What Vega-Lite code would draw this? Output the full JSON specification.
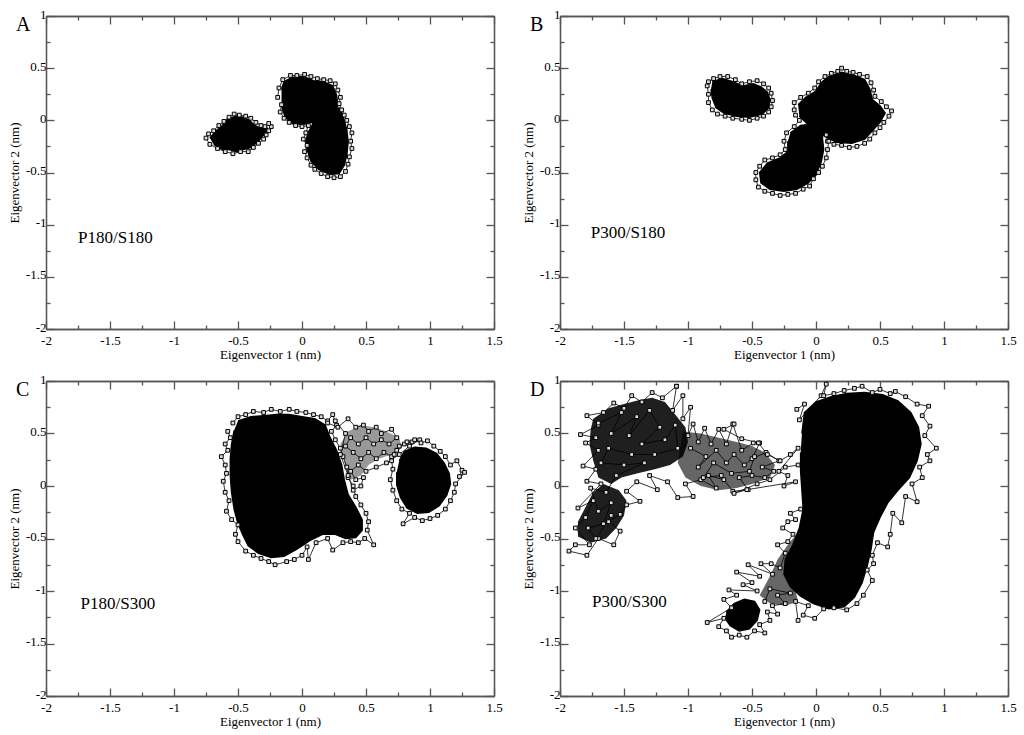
{
"$schema": "https://vega.github.io/schema/vega-lite/v6.json",
"background": "white",
"padding": {"left": 8, "top": 8, "right": 5, "bottom": 5},
"bounds": "flush",
"columns": 2,
"spacing": {"column": 66, "row": 52},
"config": {
  "view": {"stroke": null},
  "axis": {"labelFont": "Liberation Serif, Times New Roman, serif", "labelFontSize": 13, "labelColor": "black", "titleFont": "Liberation Serif, Times New Roman, serif", "titleFontSize": 13, "titleFontWeight": "normal", "titleColor": "black", "domainColor": "#555", "tickColor": "#555", "domainWidth": 1.3, "tickWidth": 1.3, "labelFlush": false, "labelOverlap": false, "grid": false},
  "title": {"font": "Liberation Serif, Times New Roman, serif", "fontSize": 20, "fontWeight": "normal", "color": "black", "anchor": "start", "frame": "group", "dx": -30, "dy": 31, "offset": 0, "baseline": "alphabetic"}
},
"datasets": {
  "A_core": [
    {"g":1,"x":-0.72,"y":-0.17},{"g":1,"x":-0.67,"y":-0.10},{"g":1,"x":-0.63,"y":-0.06},{"g":1,"x":-0.58,"y":0.01},{"g":1,"x":-0.52,"y":0.04},{"g":1,"x":-0.46,"y":0.03},{"g":1,"x":-0.41,"y":0.0},{"g":1,"x":-0.37,"y":-0.05},{"g":1,"x":-0.33,"y":-0.07},{"g":1,"x":-0.28,"y":-0.06},{"g":1,"x":-0.26,"y":-0.11},{"g":1,"x":-0.31,"y":-0.15},{"g":1,"x":-0.34,"y":-0.20},{"g":1,"x":-0.40,"y":-0.26},{"g":1,"x":-0.46,"y":-0.28},{"g":1,"x":-0.51,"y":-0.30},{"g":1,"x":-0.57,"y":-0.28},{"g":1,"x":-0.62,"y":-0.28},{"g":1,"x":-0.69,"y":-0.23},
    {"g":2,"x":-0.16,"y":0.30},{"g":2,"x":-0.14,"y":0.37},{"g":2,"x":-0.08,"y":0.41},{"g":2,"x":0.01,"y":0.42},{"g":2,"x":0.09,"y":0.38},{"g":2,"x":0.17,"y":0.37},{"g":2,"x":0.24,"y":0.33},{"g":2,"x":0.27,"y":0.24},{"g":2,"x":0.28,"y":0.14},{"g":2,"x":0.24,"y":0.04},{"g":2,"x":0.18,"y":0.0},{"g":2,"x":0.12,"y":-0.02},{"g":2,"x":0.06,"y":-0.02},{"g":2,"x":0.01,"y":-0.04},{"g":2,"x":-0.07,"y":-0.03},{"g":2,"x":-0.13,"y":0.03},{"g":2,"x":-0.16,"y":0.14},
    {"g":3,"x":0.05,"y":-0.10},{"g":3,"x":0.03,"y":-0.20},{"g":3,"x":0.04,"y":-0.28},{"g":3,"x":0.07,"y":-0.39},{"g":3,"x":0.13,"y":-0.47},{"g":3,"x":0.22,"y":-0.52},{"g":3,"x":0.29,"y":-0.51},{"g":3,"x":0.33,"y":-0.43},{"g":3,"x":0.35,"y":-0.33},{"g":3,"x":0.36,"y":-0.21},{"g":3,"x":0.35,"y":-0.09},{"g":3,"x":0.32,"y":0.04},{"g":3,"x":0.29,"y":0.12},{"g":3,"x":0.22,"y":0.10},{"g":3,"x":0.14,"y":0.04},{"g":3,"x":0.08,"y":-0.03}
  ],
  "A_path": [
    {"g":1,"x":-0.75,"y":-0.17},{"g":1,"x":-0.72,"y":-0.23},{"g":1,"x":-0.66,"y":-0.27},{"g":1,"x":-0.60,"y":-0.30},{"g":1,"x":-0.54,"y":-0.32},{"g":1,"x":-0.48,"y":-0.30},{"g":1,"x":-0.42,"y":-0.30},{"g":1,"x":-0.38,"y":-0.26},{"g":1,"x":-0.34,"y":-0.22},{"g":1,"x":-0.30,"y":-0.18},{"g":1,"x":-0.28,"y":-0.14},{"g":1,"x":-0.26,"y":-0.10},{"g":1,"x":-0.24,"y":-0.06},{"g":1,"x":-0.26,"y":-0.03},{"g":1,"x":-0.29,"y":-0.06},{"g":1,"x":-0.32,"y":-0.05},{"g":1,"x":-0.36,"y":-0.02},{"g":1,"x":-0.40,"y":0.02},{"g":1,"x":-0.44,"y":0.04},{"g":1,"x":-0.49,"y":0.05},{"g":1,"x":-0.53,"y":0.06},{"g":1,"x":-0.57,"y":0.03},{"g":1,"x":-0.61,"y":-0.01},{"g":1,"x":-0.65,"y":-0.05},{"g":1,"x":-0.69,"y":-0.10},{"g":1,"x":-0.73,"y":-0.13},
    {"g":2,"x":-0.19,"y":0.22},{"g":2,"x":-0.18,"y":0.31},{"g":2,"x":-0.15,"y":0.39},{"g":2,"x":-0.09,"y":0.43},{"g":2,"x":-0.04,"y":0.43},{"g":2,"x":0.02,"y":0.44},{"g":2,"x":0.07,"y":0.42},{"g":2,"x":0.12,"y":0.40},{"g":2,"x":0.17,"y":0.39},{"g":2,"x":0.22,"y":0.38},{"g":2,"x":0.26,"y":0.35},{"g":2,"x":0.28,"y":0.29},{"g":2,"x":0.30,"y":0.22},{"g":2,"x":0.29,"y":0.16},{"g":2,"x":0.31,"y":0.10},{"g":2,"x":0.33,"y":0.05},{"g":2,"x":0.35,"y":0.0},{"g":2,"x":0.37,"y":-0.06},{"g":2,"x":0.39,"y":-0.12},{"g":2,"x":0.38,"y":-0.20},{"g":2,"x":0.39,"y":-0.27},{"g":2,"x":0.37,"y":-0.35},{"g":2,"x":0.36,"y":-0.42},{"g":2,"x":0.34,"y":-0.49},{"g":2,"x":0.30,"y":-0.54},{"g":2,"x":0.25,"y":-0.55},{"g":2,"x":0.20,"y":-0.54},{"g":2,"x":0.15,"y":-0.51},{"g":2,"x":0.10,"y":-0.47},{"g":2,"x":0.07,"y":-0.43},{"g":2,"x":0.04,"y":-0.36},{"g":2,"x":0.02,"y":-0.30},{"g":2,"x":0.04,"y":-0.24},{"g":2,"x":0.01,"y":-0.18},{"g":2,"x":0.03,"y":-0.12},{"g":2,"x":0.05,"y":-0.05},{"g":2,"x":0.0,"y":-0.06},{"g":2,"x":-0.05,"y":-0.05},{"g":2,"x":-0.10,"y":-0.02},{"g":2,"x":-0.14,"y":0.02},{"g":2,"x":-0.17,"y":0.08},{"g":2,"x":-0.16,"y":0.15}
  ],
  "A_label": [{"x":-1.75,"y":-1.13,"t":"P180/S180"}],
  "B_core": [
    {"g":1,"x":-0.81,"y":0.37},{"g":1,"x":-0.73,"y":0.40},{"g":1,"x":-0.65,"y":0.37},{"g":1,"x":-0.57,"y":0.33},{"g":1,"x":-0.49,"y":0.35},{"g":1,"x":-0.43,"y":0.32},{"g":1,"x":-0.38,"y":0.27},{"g":1,"x":-0.36,"y":0.20},{"g":1,"x":-0.37,"y":0.12},{"g":1,"x":-0.42,"y":0.06},{"g":1,"x":-0.52,"y":0.03},{"g":1,"x":-0.62,"y":0.04},{"g":1,"x":-0.72,"y":0.07},{"g":1,"x":-0.78,"y":0.12},{"g":1,"x":-0.81,"y":0.21},{"g":1,"x":-0.82,"y":0.30},
    {"g":2,"x":-0.14,"y":0.15},{"g":2,"x":-0.08,"y":0.22},{"g":2,"x":0.0,"y":0.28},{"g":2,"x":0.04,"y":0.36},{"g":2,"x":0.10,"y":0.42},{"g":2,"x":0.20,"y":0.46},{"g":2,"x":0.30,"y":0.43},{"g":2,"x":0.38,"y":0.39},{"g":2,"x":0.42,"y":0.30},{"g":2,"x":0.44,"y":0.20},{"g":2,"x":0.50,"y":0.14},{"g":2,"x":0.54,"y":0.07},{"g":2,"x":0.50,"y":-0.02},{"g":2,"x":0.44,"y":-0.10},{"g":2,"x":0.38,"y":-0.18},{"g":2,"x":0.28,"y":-0.22},{"g":2,"x":0.16,"y":-0.21},{"g":2,"x":0.08,"y":-0.16},{"g":2,"x":0.0,"y":-0.08},{"g":2,"x":-0.07,"y":-0.03},{"g":2,"x":-0.13,"y":0.04},
    {"g":3,"x":-0.20,"y":-0.12},{"g":3,"x":-0.12,"y":-0.05},{"g":3,"x":0.0,"y":-0.03},{"g":3,"x":0.06,"y":-0.08},{"g":3,"x":0.05,"y":-0.17},{"g":3,"x":0.06,"y":-0.28},{"g":3,"x":0.04,"y":-0.40},{"g":3,"x":0.0,"y":-0.52},{"g":3,"x":-0.06,"y":-0.60},{"g":3,"x":-0.15,"y":-0.66},{"g":3,"x":-0.25,"y":-0.68},{"g":3,"x":-0.36,"y":-0.66},{"g":3,"x":-0.43,"y":-0.60},{"g":3,"x":-0.44,"y":-0.50},{"g":3,"x":-0.38,"y":-0.41},{"g":3,"x":-0.28,"y":-0.36},{"g":3,"x":-0.22,"y":-0.30},{"g":3,"x":-0.22,"y":-0.20}
  ],
  "B_path": [
    {"g":1,"x":-0.85,"y":0.33},{"g":1,"x":-0.84,"y":0.25},{"g":1,"x":-0.84,"y":0.17},{"g":1,"x":-0.81,"y":0.10},{"g":1,"x":-0.77,"y":0.06},{"g":1,"x":-0.71,"y":0.04},{"g":1,"x":-0.65,"y":0.02},{"g":1,"x":-0.58,"y":0.01},{"g":1,"x":-0.52,"y":0.00},{"g":1,"x":-0.46,"y":0.02},{"g":1,"x":-0.41,"y":0.04},{"g":1,"x":-0.37,"y":0.08},{"g":1,"x":-0.35,"y":0.13},{"g":1,"x":-0.34,"y":0.19},{"g":1,"x":-0.35,"y":0.26},{"g":1,"x":-0.37,"y":0.31},{"g":1,"x":-0.41,"y":0.35},{"g":1,"x":-0.46,"y":0.38},{"g":1,"x":-0.52,"y":0.37},{"g":1,"x":-0.58,"y":0.35},{"g":1,"x":-0.63,"y":0.39},{"g":1,"x":-0.69,"y":0.42},{"g":1,"x":-0.75,"y":0.42},{"g":1,"x":-0.80,"y":0.40},{"g":1,"x":-0.84,"y":0.37},
    {"g":2,"x":-0.17,"y":0.10},{"g":2,"x":-0.17,"y":0.17},{"g":2,"x":-0.12,"y":0.22},{"g":2,"x":-0.06,"y":0.26},{"g":2,"x":-0.01,"y":0.31},{"g":2,"x":0.02,"y":0.37},{"g":2,"x":0.07,"y":0.42},{"g":2,"x":0.12,"y":0.45},{"g":2,"x":0.17,"y":0.47},{"g":2,"x":0.20,"y":0.50},{"g":2,"x":0.24,"y":0.47},{"g":2,"x":0.29,"y":0.46},{"g":2,"x":0.34,"y":0.44},{"g":2,"x":0.40,"y":0.42},{"g":2,"x":0.43,"y":0.36},{"g":2,"x":0.45,"y":0.29},{"g":2,"x":0.46,"y":0.23},{"g":2,"x":0.51,"y":0.18},{"g":2,"x":0.55,"y":0.13},{"g":2,"x":0.59,"y":0.09},{"g":2,"x":0.57,"y":0.04},{"g":2,"x":0.53,"y":-0.02},{"g":2,"x":0.50,"y":-0.07},{"g":2,"x":0.46,"y":-0.12},{"g":2,"x":0.42,"y":-0.18},{"g":2,"x":0.38,"y":-0.22},{"g":2,"x":0.32,"y":-0.25},{"g":2,"x":0.26,"y":-0.26},{"g":2,"x":0.20,"y":-0.24},{"g":2,"x":0.14,"y":-0.23},{"g":2,"x":0.09,"y":-0.20},{"g":2,"x":0.08,"y":-0.14},
    {"g":3,"x":-0.16,"y":0.05},{"g":3,"x":-0.13,"y":0.0},{"g":3,"x":-0.17,"y":-0.06},{"g":3,"x":-0.23,"y":-0.12},{"g":3,"x":-0.25,"y":-0.20},{"g":3,"x":-0.24,"y":-0.28},{"g":3,"x":-0.28,"y":-0.33},{"g":3,"x":-0.34,"y":-0.36},{"g":3,"x":-0.40,"y":-0.38},{"g":3,"x":-0.44,"y":-0.44},{"g":3,"x":-0.47,"y":-0.50},{"g":3,"x":-0.47,"y":-0.57},{"g":3,"x":-0.45,"y":-0.64},{"g":3,"x":-0.40,"y":-0.68},{"g":3,"x":-0.34,"y":-0.70},{"g":3,"x":-0.28,"y":-0.72},{"g":3,"x":-0.22,"y":-0.71},{"g":3,"x":-0.16,"y":-0.70},{"g":3,"x":-0.10,"y":-0.66},{"g":3,"x":-0.05,"y":-0.63},{"g":3,"x":-0.02,"y":-0.56},{"g":3,"x":0.02,"y":-0.50},{"g":3,"x":0.05,"y":-0.44},{"g":3,"x":0.08,"y":-0.36},{"g":3,"x":0.09,"y":-0.28},{"g":3,"x":0.10,"y":-0.20}
  ],
  "B_label": [{"x":-1.76,"y":-1.08,"t":"P300/S180"}],
  "C_light": [
    {"g":1,"x":0.30,"y":0.40},{"g":1,"x":0.36,"y":0.52},{"g":1,"x":0.46,"y":0.58},{"g":1,"x":0.56,"y":0.56},{"g":1,"x":0.66,"y":0.52},{"g":1,"x":0.76,"y":0.46},{"g":1,"x":0.78,"y":0.36},{"g":1,"x":0.70,"y":0.30},{"g":1,"x":0.60,"y":0.26},{"g":1,"x":0.52,"y":0.20},{"g":1,"x":0.46,"y":0.10},{"g":1,"x":0.38,"y":0.06},{"g":1,"x":0.34,"y":0.18}
  ],
  "C_core": [
    {"g":1,"x":-0.50,"y":0.62},{"g":1,"x":-0.40,"y":0.66},{"g":1,"x":-0.30,"y":0.67},{"g":1,"x":-0.20,"y":0.68},{"g":1,"x":-0.10,"y":0.68},{"g":1,"x":0.0,"y":0.66},{"g":1,"x":0.10,"y":0.64},{"g":1,"x":0.18,"y":0.58},{"g":1,"x":0.22,"y":0.46},{"g":1,"x":0.27,"y":0.34},{"g":1,"x":0.31,"y":0.20},{"g":1,"x":0.33,"y":0.06},{"g":1,"x":0.36,"y":-0.08},{"g":1,"x":0.42,"y":-0.20},{"g":1,"x":0.47,"y":-0.32},{"g":1,"x":0.47,"y":-0.42},{"g":1,"x":0.42,"y":-0.49},{"g":1,"x":0.34,"y":-0.50},{"g":1,"x":0.26,"y":-0.46},{"g":1,"x":0.16,"y":-0.46},{"g":1,"x":0.06,"y":-0.52},{"g":1,"x":-0.04,"y":-0.60},{"g":1,"x":-0.14,"y":-0.67},{"g":1,"x":-0.24,"y":-0.68},{"g":1,"x":-0.34,"y":-0.64},{"g":1,"x":-0.42,"y":-0.57},{"g":1,"x":-0.46,"y":-0.47},{"g":1,"x":-0.50,"y":-0.36},{"g":1,"x":-0.53,"y":-0.22},{"g":1,"x":-0.55,"y":-0.06},{"g":1,"x":-0.56,"y":0.10},{"g":1,"x":-0.56,"y":0.26},{"g":1,"x":-0.55,"y":0.40},{"g":1,"x":-0.53,"y":0.53},
    {"g":2,"x":0.76,"y":0.24},{"g":2,"x":0.80,"y":0.33},{"g":2,"x":0.88,"y":0.37},{"g":2,"x":0.97,"y":0.36},{"g":2,"x":1.05,"y":0.31},{"g":2,"x":1.11,"y":0.22},{"g":2,"x":1.15,"y":0.12},{"g":2,"x":1.16,"y":0.02},{"g":2,"x":1.13,"y":-0.09},{"g":2,"x":1.07,"y":-0.19},{"g":2,"x":0.99,"y":-0.25},{"g":2,"x":0.90,"y":-0.26},{"g":2,"x":0.82,"y":-0.21},{"g":2,"x":0.77,"y":-0.11},{"g":2,"x":0.74,"y":0.01},{"g":2,"x":0.74,"y":0.13}
  ],
  "C_path": [
    {"g":1,"x":-0.54,"y":0.60},{"g":1,"x":-0.50,"y":0.66},{"g":1,"x":-0.44,"y":0.68},{"g":1,"x":-0.38,"y":0.71},{"g":1,"x":-0.30,"y":0.70},{"g":1,"x":-0.24,"y":0.73},{"g":1,"x":-0.17,"y":0.71},{"g":1,"x":-0.10,"y":0.73},{"g":1,"x":-0.04,"y":0.71},{"g":1,"x":0.03,"y":0.70},{"g":1,"x":0.09,"y":0.68},{"g":1,"x":0.15,"y":0.66},{"g":1,"x":0.20,"y":0.62},{"g":1,"x":0.24,"y":0.68},{"g":1,"x":0.27,"y":0.58},{"g":1,"x":0.23,"y":0.52},{"g":1,"x":0.26,"y":0.44},{"g":1,"x":0.30,"y":0.36},{"g":1,"x":0.32,"y":0.28},{"g":1,"x":0.35,"y":0.18},{"g":1,"x":0.36,"y":0.08},{"g":1,"x":0.40,"y":0.00},{"g":1,"x":0.42,"y":-0.10},{"g":1,"x":0.46,"y":-0.18},{"g":1,"x":0.50,"y":-0.26},{"g":1,"x":0.52,"y":-0.34},{"g":1,"x":0.51,"y":-0.42},{"g":1,"x":0.56,"y":-0.56},{"g":1,"x":0.49,"y":-0.50},{"g":1,"x":0.44,"y":-0.54},{"g":1,"x":0.38,"y":-0.53},{"g":1,"x":0.32,"y":-0.54},{"g":1,"x":0.24,"y":-0.61},{"g":1,"x":0.20,"y":-0.50},{"g":1,"x":0.11,"y":-0.54},{"g":1,"x":0.05,"y":-0.70},{"g":1,"x":0.04,"y":-0.58},{"g":1,"x":0.0,"y":-0.66},{"g":1,"x":-0.06,"y":-0.70},{"g":1,"x":-0.12,"y":-0.72},{"g":1,"x":-0.21,"y":-0.75},{"g":1,"x":-0.26,"y":-0.72},{"g":1,"x":-0.32,"y":-0.69},{"g":1,"x":-0.38,"y":-0.66},{"g":1,"x":-0.44,"y":-0.62},{"g":1,"x":-0.50,"y":-0.53},{"g":1,"x":-0.52,"y":-0.46},{"g":1,"x":-0.50,"y":-0.37},{"g":1,"x":-0.55,"y":-0.32},{"g":1,"x":-0.59,"y":-0.24},{"g":1,"x":-0.57,"y":-0.14},{"g":1,"x":-0.60,"y":-0.06},{"g":1,"x":-0.615,"y":0.045},{"g":1,"x":-0.59,"y":0.12},{"g":1,"x":-0.60,"y":0.20},{"g":1,"x":-0.63,"y":0.28},{"g":1,"x":-0.58,"y":0.34},{"g":1,"x":-0.60,"y":0.40},{"g":1,"x":-0.56,"y":0.46},{"g":1,"x":-0.58,"y":0.52},
    {"g":2,"x":0.20,"y":0.60},{"g":2,"x":0.28,"y":0.56},{"g":2,"x":0.36,"y":0.64},{"g":2,"x":0.42,"y":0.56},{"g":2,"x":0.48,"y":0.58},{"g":2,"x":0.52,"y":0.52},{"g":2,"x":0.58,"y":0.56},{"g":2,"x":0.62,"y":0.50},{"g":2,"x":0.70,"y":0.54},{"g":2,"x":0.74,"y":0.46},{"g":2,"x":0.68,"y":0.40},{"g":2,"x":0.62,"y":0.44},{"g":2,"x":0.56,"y":0.40},{"g":2,"x":0.50,"y":0.46},{"g":2,"x":0.44,"y":0.40},{"g":2,"x":0.38,"y":0.46},{"g":2,"x":0.34,"y":0.38},{"g":2,"x":0.40,"y":0.32},{"g":2,"x":0.46,"y":0.26},{"g":2,"x":0.52,"y":0.32},{"g":2,"x":0.58,"y":0.26},{"g":2,"x":0.64,"y":0.32},{"g":2,"x":0.70,"y":0.28},{"g":2,"x":0.74,"y":0.34},{"g":2,"x":0.80,"y":0.40},{"g":2,"x":0.86,"y":0.42},{"g":2,"x":0.92,"y":0.44},{"g":2,"x":0.84,"y":0.38},{"g":2,"x":0.76,"y":0.30},{"g":2,"x":0.66,"y":0.22},{"g":2,"x":0.58,"y":0.18},{"g":2,"x":0.50,"y":0.14},{"g":2,"x":0.44,"y":0.20},{"g":2,"x":0.38,"y":0.14},{"g":2,"x":0.42,"y":0.06},{"g":2,"x":0.48,"y":0.08},{"g":2,"x":0.46,"y":0.00},{"g":2,"x":0.40,"y":-0.04},{"g":2,"x":0.36,"y":0.10},{"g":2,"x":0.30,"y":0.30},{"g":2,"x":0.34,"y":0.50},{"g":2,"x":0.26,"y":0.62},
    {"g":3,"x":0.72,"y":0.30},{"g":3,"x":0.76,"y":0.38},{"g":3,"x":0.82,"y":0.42},{"g":3,"x":0.88,"y":0.44},{"g":3,"x":0.93,"y":0.41},{"g":3,"x":0.98,"y":0.43},{"g":3,"x":1.03,"y":0.38},{"g":3,"x":1.08,"y":0.33},{"g":3,"x":1.12,"y":0.28},{"g":3,"x":1.16,"y":0.20},{"g":3,"x":1.21,"y":0.24},{"g":3,"x":1.25,"y":0.15},{"g":3,"x":1.23,"y":0.09},{"g":3,"x":1.27,"y":0.13},{"g":3,"x":1.20,"y":0.02},{"g":3,"x":1.19,"y":-0.06},{"g":3,"x":1.16,"y":-0.14},{"g":3,"x":1.12,"y":-0.22},{"g":3,"x":1.06,"y":-0.28},{"g":3,"x":1.00,"y":-0.31},{"g":3,"x":0.94,"y":-0.33},{"g":3,"x":0.88,"y":-0.30},{"g":3,"x":0.79,"y":-0.36},{"g":3,"x":0.84,"y":-0.26},{"g":3,"x":0.78,"y":-0.22},{"g":3,"x":0.74,"y":-0.14},{"g":3,"x":0.71,"y":-0.04},{"g":3,"x":0.69,"y":0.06},{"g":3,"x":0.71,"y":0.16},{"g":3,"x":0.70,"y":0.24}
  ],
  "C_label": [{"x":-1.73,"y":-1.12,"t":"P180/S300"}],
  "D_dense": [
    {"g":1,"x":-1.74,"y":0.64},{"g":1,"x":-1.62,"y":0.74},{"g":1,"x":-1.50,"y":0.78},{"g":1,"x":-1.38,"y":0.82},{"g":1,"x":-1.28,"y":0.84},{"g":1,"x":-1.18,"y":0.80},{"g":1,"x":-1.10,"y":0.68},{"g":1,"x":-1.02,"y":0.56},{"g":1,"x":-1.00,"y":0.42},{"g":1,"x":-1.04,"y":0.28},{"g":1,"x":-1.14,"y":0.20},{"g":1,"x":-1.26,"y":0.16},{"g":1,"x":-1.40,"y":0.12},{"g":1,"x":-1.52,"y":0.08},{"g":1,"x":-1.60,"y":0.02},{"g":1,"x":-1.70,"y":0.08},{"g":1,"x":-1.74,"y":0.24},{"g":1,"x":-1.77,"y":0.40},{"g":1,"x":-1.76,"y":0.54},
    {"g":2,"x":-1.66,"y":0.02},{"g":2,"x":-1.54,"y":-0.04},{"g":2,"x":-1.48,"y":-0.14},{"g":2,"x":-1.50,"y":-0.28},{"g":2,"x":-1.56,"y":-0.40},{"g":2,"x":-1.64,"y":-0.50},{"g":2,"x":-1.76,"y":-0.54},{"g":2,"x":-1.86,"y":-0.48},{"g":2,"x":-1.86,"y":-0.34},{"g":2,"x":-1.80,"y":-0.20},{"g":2,"x":-1.74,"y":-0.06}
  ],
  "D_light": [
    {"g":1,"x":-1.04,"y":0.52},{"g":1,"x":-0.90,"y":0.50},{"g":1,"x":-0.76,"y":0.46},{"g":1,"x":-0.62,"y":0.42},{"g":1,"x":-0.50,"y":0.38},{"g":1,"x":-0.40,"y":0.32},{"g":1,"x":-0.32,"y":0.20},{"g":1,"x":-0.36,"y":0.08},{"g":1,"x":-0.50,"y":0.02},{"g":1,"x":-0.62,"y":-0.02},{"g":1,"x":-0.76,"y":-0.04},{"g":1,"x":-0.90,"y":0.00},{"g":1,"x":-1.02,"y":0.08},{"g":1,"x":-1.08,"y":0.22},
    {"g":2,"x":-0.44,"y":-1.04},{"g":2,"x":-0.36,"y":-0.86},{"g":2,"x":-0.30,"y":-0.70},{"g":2,"x":-0.22,"y":-0.56},{"g":2,"x":-0.14,"y":-0.44},{"g":2,"x":-0.10,"y":-0.50},{"g":2,"x":-0.16,"y":-0.70},{"g":2,"x":-0.18,"y":-0.90},{"g":2,"x":-0.14,"y":-1.10},{"g":2,"x":-0.24,"y":-1.14},{"g":2,"x":-0.36,"y":-1.12}
  ],
  "D_core": [
    {"g":1,"x":-0.11,"y":0.50},{"g":1,"x":-0.09,"y":0.70},{"g":1,"x":0.0,"y":0.80},{"g":1,"x":0.12,"y":0.85},{"g":1,"x":0.24,"y":0.88},{"g":1,"x":0.38,"y":0.89},{"g":1,"x":0.52,"y":0.87},{"g":1,"x":0.64,"y":0.81},{"g":1,"x":0.74,"y":0.70},{"g":1,"x":0.80,"y":0.56},{"g":1,"x":0.82,"y":0.40},{"g":1,"x":0.79,"y":0.24},{"g":1,"x":0.73,"y":0.08},{"g":1,"x":0.64,"y":-0.04},{"g":1,"x":0.56,"y":-0.16},{"g":1,"x":0.50,"y":-0.30},{"g":1,"x":0.45,"y":-0.44},{"g":1,"x":0.43,"y":-0.60},{"g":1,"x":0.40,"y":-0.76},{"g":1,"x":0.36,"y":-0.92},{"g":1,"x":0.30,"y":-1.06},{"g":1,"x":0.22,"y":-1.15},{"g":1,"x":0.10,"y":-1.17},{"g":1,"x":-0.02,"y":-1.12},{"g":1,"x":-0.12,"y":-1.05},{"g":1,"x":-0.20,"y":-0.96},{"g":1,"x":-0.25,"y":-0.84},{"g":1,"x":-0.24,"y":-0.70},{"g":1,"x":-0.18,"y":-0.56},{"g":1,"x":-0.13,"y":-0.40},{"g":1,"x":-0.10,"y":-0.22},{"g":1,"x":-0.11,"y":-0.04},{"g":1,"x":-0.12,"y":0.14},{"g":1,"x":-0.12,"y":0.32},
    {"g":2,"x":-0.70,"y":-1.20},{"g":2,"x":-0.64,"y":-1.12},{"g":2,"x":-0.56,"y":-1.08},{"g":2,"x":-0.48,"y":-1.10},{"g":2,"x":-0.44,"y":-1.18},{"g":2,"x":-0.46,"y":-1.28},{"g":2,"x":-0.52,"y":-1.36},{"g":2,"x":-0.60,"y":-1.38},{"g":2,"x":-0.67,"y":-1.33},{"g":2,"x":-0.71,"y":-1.26}
  ],
  "D_path": [
    {"g":1,"x":-1.09,"y":0.95},{"g":1,"x":-1.20,"y":0.84},{"g":1,"x":-1.28,"y":0.89},{"g":1,"x":-1.36,"y":0.80},{"g":1,"x":-1.44,"y":0.86},{"g":1,"x":-1.50,"y":0.74},{"g":1,"x":-1.58,"y":0.79},{"g":1,"x":-1.66,"y":0.70},{"g":1,"x":-1.79,"y":0.67},{"g":1,"x":-1.70,"y":0.58},{"g":1,"x":-1.84,"y":0.49},{"g":1,"x":-1.72,"y":0.46},{"g":1,"x":-1.80,"y":0.41},{"g":1,"x":-1.70,"y":0.34},{"g":1,"x":-1.82,"y":0.19},{"g":1,"x":-1.72,"y":0.16},{"g":1,"x":-1.79,"y":0.045},{"g":1,"x":-1.68,"y":0.02},{"g":1,"x":-1.86,"y":-0.21},{"g":1,"x":-1.74,"y":-0.14},{"g":1,"x":-1.80,"y":-0.30},{"g":1,"x":-1.88,"y":-0.40},{"g":1,"x":-1.77,"y":-0.56},{"g":1,"x":-1.88,"y":-0.56},{"g":1,"x":-1.93,"y":-0.62},{"g":1,"x":-1.79,"y":-0.66},{"g":1,"x":-1.70,"y":-0.50},{"g":1,"x":-1.58,"y":-0.56},{"g":1,"x":-1.53,"y":-0.43},{"g":1,"x":-1.62,"y":-0.34},{"g":1,"x":-1.53,"y":-0.27},{"g":1,"x":-1.48,"y":-0.18},{"g":1,"x":-1.375,"y":-0.146},{"g":1,"x":-1.48,"y":-0.05},{"g":1,"x":-1.40,"y":0.04},{"g":1,"x":-1.24,"y":-0.035},{"g":1,"x":-1.30,"y":0.10},{"g":1,"x":-1.16,"y":0.04},{"g":1,"x":-1.08,"y":-0.11},{"g":1,"x":-0.96,"y":-0.10},{"g":1,"x":-1.02,"y":0.02},{"g":1,"x":-0.90,"y":0.06},{"g":1,"x":-0.78,"y":-0.02},{"g":1,"x":-0.84,"y":0.10},{"g":1,"x":-0.72,"y":0.06},{"g":1,"x":-0.65,"y":-0.05},{"g":1,"x":-0.53,"y":-0.035},{"g":1,"x":-0.60,"y":0.08},{"g":1,"x":-0.50,"y":0.10},{"g":1,"x":-0.40,"y":0.08},{"g":1,"x":-0.33,"y":0.14},{"g":1,"x":-0.42,"y":0.18},{"g":1,"x":-0.29,"y":0.24},{"g":1,"x":-0.39,"y":0.32},{"g":1,"x":-0.50,"y":0.26},{"g":1,"x":-0.44,"y":0.41},{"g":1,"x":-0.49,"y":0.41},{"g":1,"x":-0.58,"y":0.34},{"g":1,"x":-0.65,"y":0.59},{"g":1,"x":-0.70,"y":0.40},{"g":1,"x":-0.76,"y":0.54},{"g":1,"x":-0.82,"y":0.40},{"g":1,"x":-0.87,"y":0.55},{"g":1,"x":-0.92,"y":0.42},{"g":1,"x":-0.96,"y":0.59},{"g":1,"x":-1.00,"y":0.48},{"g":1,"x":-0.98,"y":0.75},{"g":1,"x":-1.04,"y":0.64},{"g":1,"x":-1.04,"y":0.86},{"g":1,"x":-1.12,"y":0.72},{"g":1,"x":-1.09,"y":0.95},
    {"g":2,"x":-0.64,"y":0.59},{"g":2,"x":-0.72,"y":0.54},{"g":2,"x":-0.58,"y":0.45},{"g":2,"x":-0.45,"y":0.41},{"g":2,"x":-0.38,"y":0.30},{"g":2,"x":-0.28,"y":0.24},{"g":2,"x":-0.20,"y":0.30},{"g":2,"x":-0.14,"y":0.36},{"g":2,"x":-0.29,"y":0.14},{"g":2,"x":-0.22,"y":0.10},{"g":2,"x":-0.25,"y":0.0},{"g":2,"x":-0.16,"y":0.04},{"g":2,"x":-0.54,"y":-0.035},{"g":2,"x":-0.64,"y":-0.07},{"g":2,"x":-0.46,"y":0.02},{"g":2,"x":-0.36,"y":0.06},{"g":2,"x":-0.24,"y":0.18},{"g":2,"x":-0.14,"y":0.20},
    {"g":3,"x":-0.15,"y":0.73},{"g":3,"x":-0.09,"y":0.78},{"g":3,"x":-0.13,"y":0.63},{"g":3,"x":0.04,"y":0.86},{"g":3,"x":0.08,"y":0.97},{"g":3,"x":0.06,"y":0.86},{"g":3,"x":0.14,"y":0.88},{"g":3,"x":0.22,"y":0.91},{"g":3,"x":0.30,"y":0.93},{"g":3,"x":0.36,"y":0.95},{"g":3,"x":0.44,"y":0.89},{"g":3,"x":0.50,"y":0.92},{"g":3,"x":0.58,"y":0.88},{"g":3,"x":0.62,"y":0.90},{"g":3,"x":0.70,"y":0.85},{"g":3,"x":0.79,"y":0.78},{"g":3,"x":0.88,"y":0.76},{"g":3,"x":0.83,"y":0.67},{"g":3,"x":0.89,"y":0.57},{"g":3,"x":0.85,"y":0.48},{"g":3,"x":0.94,"y":0.36},{"g":3,"x":0.87,"y":0.30},{"g":3,"x":0.89,"y":0.24},{"g":3,"x":0.81,"y":0.18},{"g":3,"x":0.83,"y":0.08},{"g":3,"x":0.75,"y":0.02},{"g":3,"x":0.79,"y":-0.15},{"g":3,"x":0.70,"y":-0.10},{"g":3,"x":0.67,"y":-0.35},{"g":3,"x":0.60,"y":-0.26},{"g":3,"x":0.58,"y":-0.46},{"g":3,"x":0.56,"y":-0.58},{"g":3,"x":0.48,"y":-0.54},{"g":3,"x":0.44,"y":-0.66},{"g":3,"x":0.45,"y":-0.74},{"g":3,"x":0.40,"y":-0.80},{"g":3,"x":0.44,"y":-0.90},{"g":3,"x":0.37,"y":-1.04},{"g":3,"x":0.32,"y":-1.12},{"g":3,"x":0.24,"y":-1.18},{"g":3,"x":0.14,"y":-1.16},{"g":3,"x":0.06,"y":-1.17},{"g":3,"x":-0.01,"y":-1.26},{"g":3,"x":-0.10,"y":-1.23},{"g":3,"x":-0.06,"y":-1.14},{"g":3,"x":-0.16,"y":-1.10},{"g":3,"x":-0.14,"y":-1.28},
    {"g":4,"x":-0.12,"y":-0.22},{"g":4,"x":-0.20,"y":-0.26},{"g":4,"x":-0.16,"y":-0.32},{"g":4,"x":-0.22,"y":-0.34},{"g":4,"x":-0.26,"y":-0.40},{"g":4,"x":-0.18,"y":-0.46},{"g":4,"x":-0.22,"y":-0.53},{"g":4,"x":-0.30,"y":-0.56},{"g":4,"x":-0.24,"y":-0.64},{"g":4,"x":-0.28,"y":-0.78},{"g":4,"x":-0.35,"y":-0.74},{"g":4,"x":-0.43,"y":-0.74},{"g":4,"x":-0.34,"y":-0.84},{"g":4,"x":-0.53,"y":-0.75},{"g":4,"x":-0.44,"y":-0.86},{"g":4,"x":-0.62,"y":-0.82},{"g":4,"x":-0.50,"y":-0.92},{"g":4,"x":-0.57,"y":-0.94},{"g":4,"x":-0.46,"y":-1.00},{"g":4,"x":-0.68,"y":-0.99},{"g":4,"x":-0.62,"y":-1.04},{"g":4,"x":-0.72,"y":-1.08},{"g":4,"x":-0.66,"y":-1.16},{"g":4,"x":-0.85,"y":-1.30},{"g":4,"x":-0.72,"y":-1.26},{"g":4,"x":-0.76,"y":-1.34},{"g":4,"x":-0.70,"y":-1.38},{"g":4,"x":-0.66,"y":-1.44},{"g":4,"x":-0.60,"y":-1.42},{"g":4,"x":-0.54,"y":-1.44},{"g":4,"x":-0.48,"y":-1.38},{"g":4,"x":-0.40,"y":-1.40},{"g":4,"x":-0.44,"y":-1.32},{"g":4,"x":-0.36,"y":-1.28},{"g":4,"x":-0.38,"y":-1.20},{"g":4,"x":-0.30,"y":-1.22},{"g":4,"x":-0.34,"y":-1.14},{"g":4,"x":-0.24,"y":-1.12},{"g":4,"x":-0.30,"y":-1.04},{"g":4,"x":-0.20,"y":-1.02},{"g":4,"x":-0.36,"y":-0.98},{"g":4,"x":-0.40,"y":-1.10},
    {"g":5,"x":-1.70,"y":0.60},{"g":5,"x":-1.52,"y":0.70},{"g":5,"x":-1.60,"y":0.50},{"g":5,"x":-1.40,"y":0.66},{"g":5,"x":-1.46,"y":0.48},{"g":5,"x":-1.30,"y":0.72},{"g":5,"x":-1.22,"y":0.56},{"g":5,"x":-1.36,"y":0.40},{"g":5,"x":-1.18,"y":0.44},{"g":5,"x":-1.10,"y":0.58},{"g":5,"x":-1.08,"y":0.36},{"g":5,"x":-1.26,"y":0.30},{"g":5,"x":-1.44,"y":0.30},{"g":5,"x":-1.62,"y":0.36},{"g":5,"x":-1.68,"y":0.22},{"g":5,"x":-1.50,"y":0.20},{"g":5,"x":-1.34,"y":0.22},{"g":5,"x":-1.56,"y":0.10},{"g":5,"x":-1.64,"y":-0.06},{"g":5,"x":-1.76,"y":-0.02},{"g":5,"x":-1.70,"y":-0.24},{"g":5,"x":-1.60,"y":-0.16},{"g":5,"x":-1.66,"y":-0.36},{"g":5,"x":-1.78,"y":-0.40},{"g":5,"x":-1.72,"y":-0.50},{"g":5,"x":-1.60,"y":-0.28},
    {"g":6,"x":-0.98,"y":0.36},{"g":6,"x":-0.86,"y":0.28},{"g":6,"x":-0.92,"y":0.18},{"g":6,"x":-0.78,"y":0.34},{"g":6,"x":-0.70,"y":0.22},{"g":6,"x":-0.64,"y":0.30},{"g":6,"x":-0.56,"y":0.20},{"g":6,"x":-0.48,"y":0.28},{"g":6,"x":-0.52,"y":0.14},{"g":6,"x":-0.66,"y":0.12},{"g":6,"x":-0.80,"y":0.22},{"g":6,"x":-0.88,"y":0.08},{"g":6,"x":-0.74,"y":0.10}
  ],
  "D_label": [{"x":-1.75,"y":-1.10,"t":"P300/S300"}]
},
"concat": [
  {
    "width": 448, "height": 313,
    "title": {"text": "A"},
    "resolve": {"axis": {"x": "independent", "y": "independent"}},
    "layer": [
      {"data": {"name": "A_core"}, "mark": {"type": "line", "fill": "black", "stroke": "black", "strokeWidth": 1.5},
       "encoding": {
         "x": {"field": "x", "type": "quantitative", "scale": {"domain": [-2, 1.5], "nice": false, "zero": false}, "axis": {"orient": "bottom", "values": [-2,-1.5,-1,-0.5,0,0.5,1,1.5], "tickSize": -8, "labelPadding": 13, "labelExpr": "datum.value < 0 ? '-' + format(-datum.value, '~g') : format(datum.value, '~g')", "title": "Eigenvector 1 (nm)", "titlePadding": 1}},
         "y": {"field": "y", "type": "quantitative", "scale": {"domain": [-2, 1], "nice": false, "zero": false}, "axis": {"orient": "left", "values": [-2,-1.5,-1,-0.5,0,0.5,1], "tickSize": -8, "labelPadding": 8, "labelOffset": -2, "labelExpr": "datum.value < 0 ? '-' + format(-datum.value, '~g') : format(datum.value, '~g')", "title": "Eigenvector 2 (nm)", "titlePadding": 4}},
         "detail": {"field": "g"}, "order": {"value": null}}},
      {"data": {"name": "A_path"}, "mark": {"type": "line", "stroke": "black", "strokeWidth": 0.8},
       "encoding": {
         "x": {"field": "x", "type": "quantitative", "scale": {"domain": [-2, 1.5], "nice": false, "zero": false}, "axis": {"orient": "bottom", "values": [-1.75,-1.25,-0.75,-0.25,0.25,0.75,1.25], "tickSize": -4, "labels": false, "title": null}},
         "y": {"field": "y", "type": "quantitative", "scale": {"domain": [-2, 1], "nice": false, "zero": false}, "axis": {"orient": "left", "values": [-1.75,-1.25,-0.75,-0.25,0.25,0.75], "tickSize": -4, "labels": false, "title": null}},
         "detail": {"field": "g"}, "order": {"value": null}}},
      {"data": {"name": "A_path"}, "mark": {"type": "point", "shape": "square", "size": 14, "filled": true, "fill": "#dddddd", "stroke": "black", "strokeWidth": 1, "opacity": 1},
       "encoding": {
         "x": {"field": "x", "type": "quantitative", "scale": {"domain": [-2, 1.5], "nice": false, "zero": false}, "axis": {"orient": "top", "values": [-2,-1.5,-1,-0.5,0,0.5,1,1.5], "tickSize": -8, "labels": false, "title": null}},
         "y": {"field": "y", "type": "quantitative", "scale": {"domain": [-2, 1], "nice": false, "zero": false}, "axis": {"orient": "right", "values": [-2,-1.5,-1,-0.5,0,0.5,1], "tickSize": -8, "labels": false, "title": null}}}},
      {"data": {"name": "A_label"}, "mark": {"type": "text", "align": "left", "baseline": "middle", "font": "Liberation Serif, Times New Roman, serif", "fontSize": 17, "color": "black"},
       "encoding": {
         "x": {"field": "x", "type": "quantitative", "scale": {"domain": [-2, 1.5], "nice": false, "zero": false}, "axis": {"orient": "top", "values": [-1.75,-1.25,-0.75,-0.25,0.25,0.75,1.25], "tickSize": -4, "labels": false, "title": null}},
         "y": {"field": "y", "type": "quantitative", "scale": {"domain": [-2, 1], "nice": false, "zero": false}, "axis": {"orient": "right", "values": [-1.75,-1.25,-0.75,-0.25,0.25,0.75], "tickSize": -4, "labels": false, "title": null}},
         "text": {"field": "t"}}}
    ]
  },
  {
    "width": 448, "height": 313,
    "title": {"text": "B"},
    "resolve": {"axis": {"x": "independent", "y": "independent"}},
    "layer": [
      {"data": {"name": "B_core"}, "mark": {"type": "line", "fill": "black", "stroke": "black", "strokeWidth": 1.5},
       "encoding": {
         "x": {"field": "x", "type": "quantitative", "scale": {"domain": [-2, 1.5], "nice": false, "zero": false}, "axis": {"orient": "bottom", "values": [-2,-1.5,-1,-0.5,0,0.5,1,1.5], "tickSize": -8, "labelPadding": 13, "labelExpr": "datum.value < 0 ? '-' + format(-datum.value, '~g') : format(datum.value, '~g')", "title": "Eigenvector 1 (nm)", "titlePadding": 1}},
         "y": {"field": "y", "type": "quantitative", "scale": {"domain": [-2, 1], "nice": false, "zero": false}, "axis": {"orient": "left", "values": [-2,-1.5,-1,-0.5,0,0.5,1], "tickSize": -8, "labelPadding": 8, "labelOffset": -2, "labelExpr": "datum.value < 0 ? '-' + format(-datum.value, '~g') : format(datum.value, '~g')", "title": "Eigenvector 2 (nm)", "titlePadding": 4}},
         "detail": {"field": "g"}, "order": {"value": null}}},
      {"data": {"name": "B_path"}, "mark": {"type": "line", "stroke": "black", "strokeWidth": 0.8},
       "encoding": {
         "x": {"field": "x", "type": "quantitative", "scale": {"domain": [-2, 1.5], "nice": false, "zero": false}, "axis": {"orient": "bottom", "values": [-1.75,-1.25,-0.75,-0.25,0.25,0.75,1.25], "tickSize": -4, "labels": false, "title": null}},
         "y": {"field": "y", "type": "quantitative", "scale": {"domain": [-2, 1], "nice": false, "zero": false}, "axis": {"orient": "left", "values": [-1.75,-1.25,-0.75,-0.25,0.25,0.75], "tickSize": -4, "labels": false, "title": null}},
         "detail": {"field": "g"}, "order": {"value": null}}},
      {"data": {"name": "B_path"}, "mark": {"type": "point", "shape": "square", "size": 14, "filled": true, "fill": "#dddddd", "stroke": "black", "strokeWidth": 1, "opacity": 1},
       "encoding": {
         "x": {"field": "x", "type": "quantitative", "scale": {"domain": [-2, 1.5], "nice": false, "zero": false}, "axis": {"orient": "top", "values": [-2,-1.5,-1,-0.5,0,0.5,1,1.5], "tickSize": -8, "labels": false, "title": null}},
         "y": {"field": "y", "type": "quantitative", "scale": {"domain": [-2, 1], "nice": false, "zero": false}, "axis": {"orient": "right", "values": [-2,-1.5,-1,-0.5,0,0.5,1], "tickSize": -8, "labels": false, "title": null}}}},
      {"data": {"name": "B_label"}, "mark": {"type": "text", "align": "left", "baseline": "middle", "font": "Liberation Serif, Times New Roman, serif", "fontSize": 17, "color": "black"},
       "encoding": {
         "x": {"field": "x", "type": "quantitative", "scale": {"domain": [-2, 1.5], "nice": false, "zero": false}, "axis": {"orient": "top", "values": [-1.75,-1.25,-0.75,-0.25,0.25,0.75,1.25], "tickSize": -4, "labels": false, "title": null}},
         "y": {"field": "y", "type": "quantitative", "scale": {"domain": [-2, 1], "nice": false, "zero": false}, "axis": {"orient": "right", "values": [-1.75,-1.25,-0.75,-0.25,0.25,0.75], "tickSize": -4, "labels": false, "title": null}},
         "text": {"field": "t"}}}
    ]
  },
  {
    "width": 448, "height": 315,
    "title": {"text": "C"},
    "resolve": {"axis": {"x": "independent", "y": "independent"}},
    "layer": [
      {"data": {"name": "C_light"}, "mark": {"type": "line", "fill": "black", "fillOpacity": 0.4, "strokeOpacity": 0},
       "encoding": {
         "x": {"field": "x", "type": "quantitative", "scale": {"domain": [-2, 1.5], "nice": false, "zero": false}, "axis": null},
         "y": {"field": "y", "type": "quantitative", "scale": {"domain": [-2, 1], "nice": false, "zero": false}, "axis": null},
         "detail": {"field": "g"}, "order": {"value": null}}},
      {"data": {"name": "C_core"}, "mark": {"type": "line", "fill": "black", "stroke": "black", "strokeWidth": 1.5},
       "encoding": {
         "x": {"field": "x", "type": "quantitative", "scale": {"domain": [-2, 1.5], "nice": false, "zero": false}, "axis": {"orient": "bottom", "values": [-2,-1.5,-1,-0.5,0,0.5,1,1.5], "tickSize": -8, "labelPadding": 13, "labelExpr": "datum.value < 0 ? '-' + format(-datum.value, '~g') : format(datum.value, '~g')", "title": "Eigenvector 1 (nm)", "titlePadding": 1}},
         "y": {"field": "y", "type": "quantitative", "scale": {"domain": [-2, 1], "nice": false, "zero": false}, "axis": {"orient": "left", "values": [-2,-1.5,-1,-0.5,0,0.5,1], "tickSize": -8, "labelPadding": 8, "labelOffset": -2, "labelExpr": "datum.value < 0 ? '-' + format(-datum.value, '~g') : format(datum.value, '~g')", "title": "Eigenvector 2 (nm)", "titlePadding": 4}},
         "detail": {"field": "g"}, "order": {"value": null}}},
      {"data": {"name": "C_path"}, "mark": {"type": "line", "stroke": "black", "strokeWidth": 0.8},
       "encoding": {
         "x": {"field": "x", "type": "quantitative", "scale": {"domain": [-2, 1.5], "nice": false, "zero": false}, "axis": {"orient": "bottom", "values": [-1.75,-1.25,-0.75,-0.25,0.25,0.75,1.25], "tickSize": -4, "labels": false, "title": null}},
         "y": {"field": "y", "type": "quantitative", "scale": {"domain": [-2, 1], "nice": false, "zero": false}, "axis": {"orient": "left", "values": [-1.75,-1.25,-0.75,-0.25,0.25,0.75], "tickSize": -4, "labels": false, "title": null}},
         "detail": {"field": "g"}, "order": {"value": null}}},
      {"data": {"name": "C_path"}, "mark": {"type": "point", "shape": "square", "size": 14, "filled": true, "fill": "#dddddd", "stroke": "black", "strokeWidth": 1, "opacity": 1},
       "encoding": {
         "x": {"field": "x", "type": "quantitative", "scale": {"domain": [-2, 1.5], "nice": false, "zero": false}, "axis": {"orient": "top", "values": [-2,-1.5,-1,-0.5,0,0.5,1,1.5], "tickSize": -8, "labels": false, "title": null}},
         "y": {"field": "y", "type": "quantitative", "scale": {"domain": [-2, 1], "nice": false, "zero": false}, "axis": {"orient": "right", "values": [-2,-1.5,-1,-0.5,0,0.5,1], "tickSize": -8, "labels": false, "title": null}}}},
      {"data": {"name": "C_label"}, "mark": {"type": "text", "align": "left", "baseline": "middle", "font": "Liberation Serif, Times New Roman, serif", "fontSize": 17, "color": "black"},
       "encoding": {
         "x": {"field": "x", "type": "quantitative", "scale": {"domain": [-2, 1.5], "nice": false, "zero": false}, "axis": {"orient": "top", "values": [-1.75,-1.25,-0.75,-0.25,0.25,0.75,1.25], "tickSize": -4, "labels": false, "title": null}},
         "y": {"field": "y", "type": "quantitative", "scale": {"domain": [-2, 1], "nice": false, "zero": false}, "axis": {"orient": "right", "values": [-1.75,-1.25,-0.75,-0.25,0.25,0.75], "tickSize": -4, "labels": false, "title": null}},
         "text": {"field": "t"}}}
    ]
  },
  {
    "width": 448, "height": 315,
    "title": {"text": "D"},
    "resolve": {"axis": {"x": "independent", "y": "independent"}},
    "layer": [
      {"data": {"name": "D_light"}, "mark": {"type": "line", "fill": "black", "fillOpacity": 0.6, "strokeOpacity": 0},
       "encoding": {
         "x": {"field": "x", "type": "quantitative", "scale": {"domain": [-2, 1.5], "nice": false, "zero": false}, "axis": null},
         "y": {"field": "y", "type": "quantitative", "scale": {"domain": [-2, 1], "nice": false, "zero": false}, "axis": null},
         "detail": {"field": "g"}, "order": {"value": null}}},
      {"data": {"name": "D_dense"}, "mark": {"type": "line", "fill": "black", "fillOpacity": 0.88, "strokeOpacity": 0},
       "encoding": {
         "x": {"field": "x", "type": "quantitative", "scale": {"domain": [-2, 1.5], "nice": false, "zero": false}, "axis": null},
         "y": {"field": "y", "type": "quantitative", "scale": {"domain": [-2, 1], "nice": false, "zero": false}, "axis": null},
         "detail": {"field": "g"}, "order": {"value": null}}},
      {"data": {"name": "D_core"}, "mark": {"type": "line", "fill": "black", "stroke": "black", "strokeWidth": 1.5},
       "encoding": {
         "x": {"field": "x", "type": "quantitative", "scale": {"domain": [-2, 1.5], "nice": false, "zero": false}, "axis": {"orient": "bottom", "values": [-2,-1.5,-1,-0.5,0,0.5,1,1.5], "tickSize": -8, "labelPadding": 13, "labelExpr": "datum.value < 0 ? '-' + format(-datum.value, '~g') : format(datum.value, '~g')", "title": "Eigenvector 1 (nm)", "titlePadding": 1}},
         "y": {"field": "y", "type": "quantitative", "scale": {"domain": [-2, 1], "nice": false, "zero": false}, "axis": {"orient": "left", "values": [-2,-1.5,-1,-0.5,0,0.5,1], "tickSize": -8, "labelPadding": 8, "labelOffset": -2, "labelExpr": "datum.value < 0 ? '-' + format(-datum.value, '~g') : format(datum.value, '~g')", "title": "Eigenvector 2 (nm)", "titlePadding": 4}},
         "detail": {"field": "g"}, "order": {"value": null}}},
      {"data": {"name": "D_path"}, "mark": {"type": "line", "stroke": "black", "strokeWidth": 0.8},
       "encoding": {
         "x": {"field": "x", "type": "quantitative", "scale": {"domain": [-2, 1.5], "nice": false, "zero": false}, "axis": {"orient": "bottom", "values": [-1.75,-1.25,-0.75,-0.25,0.25,0.75,1.25], "tickSize": -4, "labels": false, "title": null}},
         "y": {"field": "y", "type": "quantitative", "scale": {"domain": [-2, 1], "nice": false, "zero": false}, "axis": {"orient": "left", "values": [-1.75,-1.25,-0.75,-0.25,0.25,0.75], "tickSize": -4, "labels": false, "title": null}},
         "detail": {"field": "g"}, "order": {"value": null}}},
      {"data": {"name": "D_path"}, "mark": {"type": "point", "shape": "square", "size": 14, "filled": true, "fill": "#dddddd", "stroke": "black", "strokeWidth": 1, "opacity": 1},
       "encoding": {
         "x": {"field": "x", "type": "quantitative", "scale": {"domain": [-2, 1.5], "nice": false, "zero": false}, "axis": {"orient": "top", "values": [-2,-1.5,-1,-0.5,0,0.5,1,1.5], "tickSize": -8, "labels": false, "title": null}},
         "y": {"field": "y", "type": "quantitative", "scale": {"domain": [-2, 1], "nice": false, "zero": false}, "axis": {"orient": "right", "values": [-2,-1.5,-1,-0.5,0,0.5,1], "tickSize": -8, "labels": false, "title": null}}}},
      {"data": {"name": "D_label"}, "mark": {"type": "text", "align": "left", "baseline": "middle", "font": "Liberation Serif, Times New Roman, serif", "fontSize": 17, "color": "black"},
       "encoding": {
         "x": {"field": "x", "type": "quantitative", "scale": {"domain": [-2, 1.5], "nice": false, "zero": false}, "axis": {"orient": "top", "values": [-1.75,-1.25,-0.75,-0.25,0.25,0.75,1.25], "tickSize": -4, "labels": false, "title": null}},
         "y": {"field": "y", "type": "quantitative", "scale": {"domain": [-2, 1], "nice": false, "zero": false}, "axis": {"orient": "right", "values": [-1.75,-1.25,-0.75,-0.25,0.25,0.75], "tickSize": -4, "labels": false, "title": null}},
         "text": {"field": "t"}}}
    ]
  }
]
}
